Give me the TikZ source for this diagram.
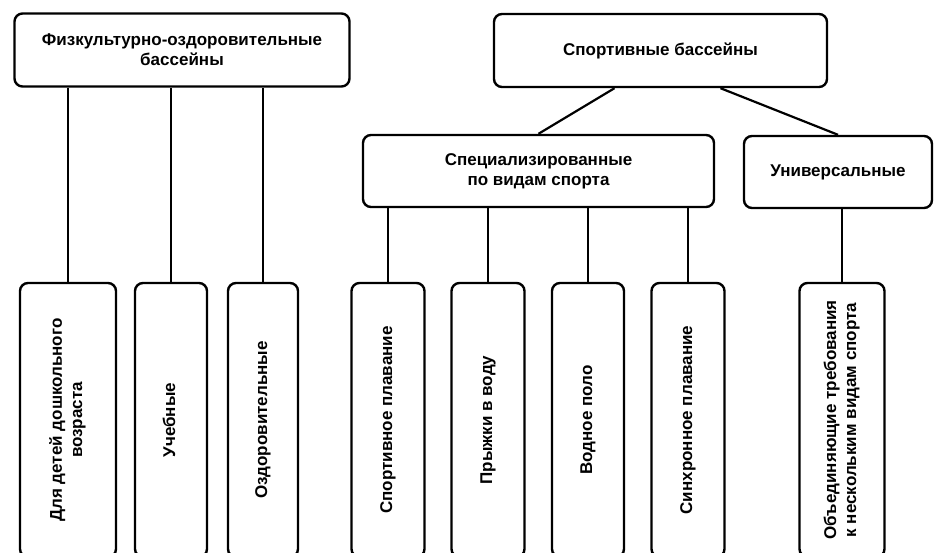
\documentclass[tikz,border=0pt]{standalone}
\usepackage{fontspec}
\setmainfont{Liberation Sans}
\usepackage{graphicx}
\begin{document}
\begin{tikzpicture}[x=1pt,y=-1pt,
  box/.style={draw, line width=2.4pt, rounded corners=8pt, inner sep=0pt, align=center,
    font=\fontsize{17}{20}\selectfont\bfseries},
  link/.style={line width=2.2pt}]
\clip (0,0) rectangle (934,552);
\fill[white] (0,0) rectangle (934,552);
% top level
\node[box, minimum width=335pt, minimum height=73pt] (A) at (182,50) {Физкультурно-оздоровительные\\бассейны};
\node[box, minimum width=333pt, minimum height=73pt] (S) at (660.5,50.5) {Спортивные бассейны};
\node[box, minimum width=351pt, minimum height=72pt] (P) at (538.5,171) {Специализированные\\по видам спорта};
\node[box, minimum width=188pt, minimum height=72pt] (U) at (838,172) {Универсальные};
% leaves
\newcommand{\vtext}[1]{\rotatebox{90}{\begin{tabular}{@{}c@{}}#1\end{tabular}}}
\node[box, minimum width=96pt, minimum height=274pt] (c1) at (68,420) {\vtext{Для детей дошкольного\\возраста}};
\node[box, minimum width=72pt, minimum height=274pt] (c2) at (171,420) {\vtext{Учебные}};
\node[box, minimum width=70pt, minimum height=274pt] (c3) at (263,420) {\vtext{Оздоровительные}};
\node[box, minimum width=73pt, minimum height=274pt] (c4) at (388,420) {\vtext{Спортивное плавание}};
\node[box, minimum width=73pt, minimum height=274pt] (c5) at (488,420) {\vtext{Прыжки в воду}};
\node[box, minimum width=72pt, minimum height=274pt] (c6) at (588,420) {\vtext{Водное поло}};
\node[box, minimum width=73pt, minimum height=274pt] (c7) at (688,420) {\vtext{Синхронное плавание}};
\node[box, minimum width=85pt, minimum height=274pt] (c8) at (842,420) {\vtext{Объединяющие требования\\к нескольким видам спорта}};
% connectors
\foreach \c in {c1,c2,c3} \draw[link] (\c.north) -- (\c.north |- A.south);
\foreach \c in {c4,c5,c6,c7} \draw[link] (\c.north) -- (\c.north |- P.south);
\draw[link] (c8.north) -- (c8.north |- U.south);
\draw[link] ([xshift=-46pt]S.south) -- (P.north);
\draw[link] ([xshift=60pt]S.south) -- (U.north);
\end{tikzpicture}
\end{document}
